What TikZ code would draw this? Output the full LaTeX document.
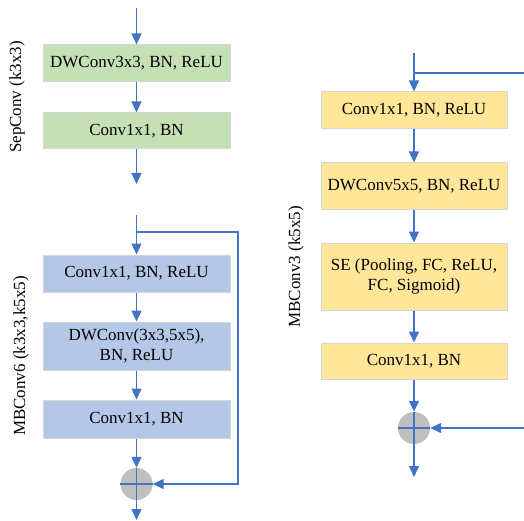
\documentclass[tikz,border=0pt]{standalone}
\usepackage{fontspec}
\setmainfont{Liberation Serif}
\usetikzlibrary{arrows.meta,positioning}

\definecolor{sepgreen}{HTML}{C5E0B4}
\definecolor{mbblue}{HTML}{B4C7E7}
\definecolor{mbyellow}{HTML}{FFE699}
\definecolor{edgegray}{HTML}{D5D5D5}
\definecolor{arrowblue}{HTML}{4472C4}
\definecolor{addgray}{HTML}{BFBFBF}

\tikzset{
	layer/.style={draw=edgegray, line width=1pt, inner sep=0pt, align=center,
		font=\fontsize{17}{20.5}\selectfont},
	flow/.style={arrowblue, line width=1.3pt, -{Triangle[width=10pt,length=11pt]}},
	link/.style={arrowblue, line width=1.3pt},
	addop/.style={circle, fill=addgray, minimum size=32pt, inner sep=0pt},
	blocklabel/.style={rotate=90, font=\fontsize{17}{20.5}\selectfont}
}

\begin{document}
\begin{tikzpicture}[x=1pt,y=-1pt]

	\useasboundingbox (0,0) rectangle (524,521);

	% SepConv
	\node[layer, fill=sepgreen, minimum width=187pt, minimum height=37pt] (sep1) at (136.5,63.5) {DWConv3x3, BN, ReLU};
	\node[layer, fill=sepgreen, minimum width=187pt, minimum height=36pt] (sep2) at (136.5,131) {Conv1x1, BN};
	\coordinate (sepin) at (136.5,8);
	\coordinate (sepout) at (136.5,184);
	\draw[flow] (sepin) -- (sep1);
	\draw[flow] (sep1) -- (sep2);
	\draw[flow] (sep2) -- (sepout);
	\node[blocklabel] (seplabel) at (17,97) {SepConv (k3x3)};

	% MBConv6
	\node[layer, fill=mbblue, minimum width=187pt, minimum height=37pt] (mb61) at (136.5,273.5) {Conv1x1, BN, ReLU};
	\node[layer, fill=mbblue, minimum width=187pt, minimum height=48pt] (mb62) at (136.5,346) {DWConv(3x3,5x5),\\BN, ReLU};
	\node[layer, fill=mbblue, minimum width=187pt, minimum height=38pt] (mb63) at (136.5,419) {Conv1x1, BN};
	\node[addop] (add6) at (136.5,484) {};
	\coordinate (mb6in) at (136.5,215);
	\coordinate (mb6split) at (136.5,232);
	\coordinate (mb6turn) at (238,232);
	\coordinate (mb6out) at (136.5,520);
	\draw[flow] (mb6in) -- (mb61);
	\draw[flow] (mb61) -- (mb62);
	\draw[flow] (mb62) -- (mb63);
	\draw[flow] (mb63) -- (add6);
	\draw[link] (add6.north) -- (add6.south);
	\draw[link] (add6.west) -- (add6.east);
	\draw[flow] (mb6split) -- (mb6turn) |- (add6);
	\draw[flow] (add6) -- (mb6out);
	\node[blocklabel] (mb6label) at (21,356) {MBConv6 (k3x3,k5x5)};

	% MBConv3
	\node[layer, fill=mbyellow, minimum width=186pt, minimum height=37pt] (mb31) at (414,110.5) {Conv1x1, BN, ReLU};
	\node[layer, fill=mbyellow, minimum width=186pt, minimum height=47pt] (mb32) at (414,186.5) {DWConv5x5, BN, ReLU};
	\node[layer, fill=mbyellow, minimum width=186pt, minimum height=67pt] (mb33) at (414,276.5) {SE (Pooling, FC, ReLU,\\FC, Sigmoid)};
	\node[layer, fill=mbyellow, minimum width=186pt, minimum height=36pt] (mb34) at (414,361) {Conv1x1, BN};
	\node[addop] (add3) at (414,428) {};
	\coordinate (mb3in) at (414,53);
	\coordinate (mb3split) at (414,73);
	\coordinate (mb3skipout) at (524,73);
	\coordinate (mb3skipin) at (524,428);
	\coordinate (mb3out) at (414,477);
	\draw[flow] (mb3in) -- (mb31);
	\draw[link] (mb3split) -- (mb3skipout);
	\draw[flow] (mb31) -- (mb32);
	\draw[flow] (mb32) -- (mb33);
	\draw[flow] (mb33) -- (mb34);
	\draw[flow] (mb34) -- (add3);
	\draw[link] (add3.north) -- (add3.south);
	\draw[link] (add3.west) -- (add3.east);
	\draw[flow] (mb3skipin) -- (add3);
	\draw[flow] (add3) -- (mb3out);
	\node[blocklabel] (mb3label) at (296,267) {MBConv3 (k5x5)};

\end{tikzpicture}
\end{document}
